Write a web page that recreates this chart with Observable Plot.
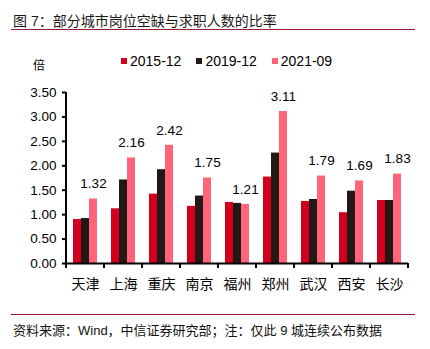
<!DOCTYPE html>
<html>
<head>
<meta charset="utf-8">
<script src="https://cdn.jsdelivr.net/npm/d3@7"></script>
<script src="https://cdn.jsdelivr.net/npm/@observablehq/plot@0.6"></script>
<style>
  html, body { margin: 0; padding: 0; background: #fff; }
  #wrap { position: relative; width: 430px; height: 349px; overflow: hidden;
    font-family: "Liberation Sans", Arial, "Noto Sans CJK SC", sans-serif; color: #000; }
  #wrap svg { position: absolute; left: 0; top: 0; }
  .abs { position: absolute; white-space: nowrap; }
  #title { left: 13px; top: 13px; font-size: 14px; line-height: 17px; color: #1a1a1a; }
  #tline { left: 11px; top: 29px; width: 404px; height: 0; border-top: 1.5px solid #9b1b30; }
  #legend { left: 121px; top: 53px; display: flex; align-items: center; font-size: 14px; line-height: 16px; }
  .li { display: flex; align-items: center; margin-right: 15px; }
  .sw { width: 6px; height: 6px; margin-right: 3px; }
  #unit { left: 33px; top: 58px; font-size: 12px; line-height: 16px; }
  #fline { left: 11px; top: 314px; width: 404px; height: 0; border-top: 1.5px solid #9b1b30; }
  #foot { left: 13px; top: 322px; font-size: 13px; line-height: 17px; color: #111; }
</style>
</head>
<body>
<div id="wrap">
  <div id="title" class="abs">图 7：部分城市岗位空缺与求职人数的比率</div>
  <div id="tline" class="abs"></div>
  <div id="legend" class="abs"></div>
  <div id="unit" class="abs">倍</div>
  <div id="fline" class="abs"></div>
  <div id="foot" class="abs">资料来源：Wind，中信证券研究部；注：仅此 9 城连续公布数据</div>
</div>
<script>
const cities = ["天津", "上海", "重庆", "南京", "福州", "郑州", "武汉", "西安", "长沙"];
const series = ["2015-12", "2019-12", "2021-09"];
const v2015 = [0.90, 1.12, 1.42, 1.17, 1.25, 1.77, 1.27, 1.04, 1.29];
const v2019 = [0.92, 1.71, 1.92, 1.38, 1.23, 2.26, 1.31, 1.48, 1.29];
const v2021 = [1.32, 2.16, 2.42, 1.75, 1.21, 3.11, 1.79, 1.69, 1.83];
const yTicks = [0, 0.5, 1, 1.5, 2, 2.5, 3, 3.5];
const colors = ["#d2001c", "#231815", "#ff6478"];

const valuesBySeries = [v2015, v2019, v2021];
const data = [];
cities.forEach((c, i) => {
  series.forEach((s, j) => data.push({city: c, series: s, value: valuesBySeries[j][i]}));
});
const labelData = data.filter(d => d.series === series[2]);

const plot = Plot.plot({
  width: 430,
  height: 349,
  marginTop: 92,
  marginBottom: 86,
  marginLeft: 62,
  marginRight: 18,
  style: {fontFamily: '"Liberation Sans", Arial, "Noto Sans CJK SC", sans-serif', background: "transparent", color: "#000"},
  fx: {domain: cities, padding: 0, label: null, axis: null},
  x: {domain: series, paddingInner: 0, paddingOuter: 0.74, axis: null},
  y: {domain: [0, 3.5], axis: null},
  color: {domain: series, range: colors},
  marks: [
    Plot.barY(data, {fx: "city", x: "series", y: "value", fill: "series"}),
    Plot.text(labelData, {fx: "city", x: "series", y: "value", text: d => d.value.toFixed(2),
      dy: -15, fontSize: 13.5, fill: "#000"}),
    Plot.ruleY([0], {stroke: "#000", strokeWidth: 2}),
    Plot.axisY({ticks: yTicks, tickFormat: d => d.toFixed(2), tickSize: 4, tickPadding: 6,
      fontSize: 13.5, label: null, strokeWidth: 2}),
    Plot.axisFx({anchor: "bottom", tickSize: 0, tickPadding: 16, fontSize: 14, label: null})
  ]
});

document.getElementById("wrap").appendChild(plot);

// y-axis line and category-boundary ticks, positioned via the plot's scales
const fx = plot.scale("fx");
const y = plot.scale("y");
const svg = d3.select(plot);
const y0 = y.apply(0), yTop = y.apply(3.5);
const xLeft = fx.apply(cities[0]);
svg.append("line").attr("x1", xLeft).attr("x2", xLeft).attr("y1", yTop).attr("y2", y0 + 1)
  .attr("stroke", "#000").attr("stroke-width", 2);
const bounds = cities.map(c => fx.apply(c)).concat([fx.apply(cities[cities.length - 1]) + fx.bandwidth]);
bounds.forEach(b => {
  svg.append("line").attr("x1", b).attr("x2", b).attr("y1", y0).attr("y2", y0 + 5)
    .attr("stroke", "#000").attr("stroke-width", 2);
});

// legend
const legend = document.getElementById("legend");
series.forEach((s, j) => {
  const item = document.createElement("div");
  item.className = "li";
  const sw = document.createElement("div");
  sw.className = "sw";
  sw.style.background = colors[j];
  const t = document.createElement("span");
  t.textContent = s;
  item.appendChild(sw);
  item.appendChild(t);
  legend.appendChild(item);
});
</script>
</body>
</html>
